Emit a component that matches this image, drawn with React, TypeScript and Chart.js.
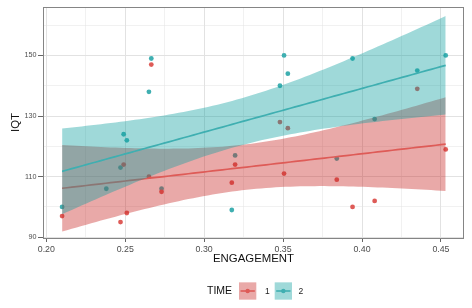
import React, { useEffect, useRef } from 'react';
import { Chart, registerables } from 'chart.js';

Chart.register(...registerables);

// TIME 1 observations
const ENGAGEMENT_T1 = [0.21, 0.247, 0.249, 0.251, 0.265, 0.2665, 0.273, 0.3175, 0.3196, 0.348, 0.3506, 0.353, 0.384, 0.394, 0.408, 0.435, 0.453];
const IQT_T1 = [97, 95, 114, 98, 110, 147, 105, 108, 114, 128, 111, 126, 109, 100, 102, 139, 119];

// TIME 2 observations
const ENGAGEMENT_T2 = [0.21, 0.238, 0.247, 0.249, 0.251, 0.265, 0.2665, 0.273, 0.3175, 0.3196, 0.348, 0.3506, 0.353, 0.384, 0.394, 0.408, 0.435, 0.453];
const IQT_T2 = [100, 106, 113, 124, 122, 138, 149, 106, 99, 117, 140, 150, 144, 116, 149, 129, 145, 150];

const X_TICKS = [0.2, 0.225, 0.25, 0.275, 0.3, 0.325, 0.35, 0.375, 0.4, 0.425, 0.45];
const Y_TICKS = [90, 100, 110, 120, 130, 140, 150, 160];
const X_LIMITS = [0.1979, 0.4646];
const Y_LIMITS = [89.75, 166];
const LEGEND_TITLE = 'TIME';
const LEGEND_LABELS = ['1', '2'];
const T_CRIT: Record<number, number> = { 15: 2.1314, 16: 2.1199 };

const RED = '#DE5B57';
const TEAL = '#3FAFB1';
const RED_BAND = 'rgba(200,40,38,0.4)';
const TEAL_BAND = 'rgba(15,160,160,0.4)';
const FONT = "'Liberation Sans', Arial, sans-serif";

function lmFit(xs: number[], ys: number[]) {
  const n = xs.length;
  const mx = xs.reduce((a, b) => a + b, 0) / n;
  const my = ys.reduce((a, b) => a + b, 0) / n;
  let sxx = 0, sxy = 0;
  for (let i = 0; i < n; i++) {
    sxx += (xs[i] - mx) ** 2;
    sxy += (xs[i] - mx) * (ys[i] - my);
  }
  const b = sxy / sxx;
  const a = my - b * mx;
  let rss = 0;
  for (let i = 0; i < n; i++) rss += (ys[i] - a - b * xs[i]) ** 2;
  const s2 = rss / (n - 2);
  const t = T_CRIT[n - 2] ?? 2.12;
  const lo = Math.min(...xs), hi = Math.max(...xs);
  const line: { x: number; y: number }[] = [];
  const upper: { x: number; y: number }[] = [];
  const lower: { x: number; y: number }[] = [];
  const steps = 80;
  for (let i = 0; i < steps; i++) {
    const x = lo + ((hi - lo) * i) / (steps - 1);
    const f = a + b * x;
    const se = Math.sqrt(s2 * (1 / n + (x - mx) ** 2 / sxx));
    line.push({ x, y: f });
    upper.push({ x, y: f + t * se });
    lower.push({ x, y: f - t * se });
  }
  return { line, upper, lower };
}

export default function App() {
  const ref = useRef<HTMLCanvasElement | null>(null);

  useEffect(() => {
    document.body.style.margin = '0';
    if (!ref.current) return;
    const f1 = lmFit(ENGAGEMENT_T1, IQT_T1);
    const f2 = lmFit(ENGAGEMENT_T2, IQT_T2);
    const pts1 = ENGAGEMENT_T1.map((x, i) => ({ x, y: IQT_T1[i] }));
    const pts2 = ENGAGEMENT_T2.map((x, i) => ({ x, y: IQT_T2[i] }));

    const bandOpts = {
      borderWidth: 0,
      borderColor: 'rgba(0,0,0,0)',
      pointRadius: 0,
      tension: 0,
    };

    const panelLegend = {
      id: 'panelLegend',
      afterDraw(chart: any) {
        const { ctx, chartArea } = chart;
        ctx.save();
        ctx.strokeStyle = '#858585';
        ctx.lineWidth = 1;
        ctx.strokeRect(chartArea.left + 0.5, chartArea.top + 0.5, chartArea.right - chartArea.left - 1, chartArea.bottom - chartArea.top);
        // legend
        const cy = 291;
        ctx.fillStyle = '#111';
        ctx.textBaseline = 'middle';
        ctx.textAlign = 'left';
        ctx.font = `10.5px ${FONT}`;
        ctx.fillText(LEGEND_TITLE, 207, cy + 0.5);
        const keys = [
          { x: 239, band: RED_BAND, col: RED, label: LEGEND_LABELS[0], lx: 265 },
          { x: 274.7, band: TEAL_BAND, col: TEAL, label: LEGEND_LABELS[1], lx: 298.5 },
        ];
        for (const k of keys) {
          const size = 17.3;
          ctx.fillStyle = k.band;
          ctx.fillRect(k.x, cy - size / 2, size, size);
          ctx.strokeStyle = k.col;
          ctx.lineWidth = 1.6;
          ctx.beginPath();
          ctx.moveTo(k.x + 1.5, cy);
          ctx.lineTo(k.x + size - 1.5, cy);
          ctx.stroke();
          ctx.fillStyle = k.col;
          ctx.beginPath();
          ctx.arc(k.x + size / 2, cy, 2.2, 0, Math.PI * 2);
          ctx.fill();
          ctx.fillStyle = '#222';
          ctx.font = `8.5px ${FONT}`;
          ctx.fillText(k.label, k.lx, cy + 0.5);
        }
        ctx.restore();
      },
    };

    const chart = new Chart(ref.current, {
      type: 'line',
      data: {
        datasets: [
          { label: 'fit2', data: f2.line, borderColor: TEAL, borderWidth: 1.7, pointRadius: 0, fill: false, order: 1 } as any,
          { label: 'up2', data: f2.upper, ...bandOpts, fill: '+1', backgroundColor: TEAL_BAND, order: 2 } as any,
          { label: 'lo2', data: f2.lower, ...bandOpts, fill: false, order: 2 } as any,
          { label: 'fit1', data: f1.line, borderColor: RED, borderWidth: 1.7, pointRadius: 0, fill: false, order: 3 } as any,
          { label: 'up1', data: f1.upper, ...bandOpts, fill: '+1', backgroundColor: RED_BAND, order: 4 } as any,
          { label: 'lo1', data: f1.lower, ...bandOpts, fill: false, order: 4 } as any,
          { label: 'p1', data: pts1, showLine: false, pointRadius: 2.4, pointBackgroundColor: RED, pointBorderWidth: 0, pointBorderColor: RED, order: 5 } as any,
          { label: 'p2', data: pts2, showLine: false, pointRadius: 2.4, pointBackgroundColor: TEAL, pointBorderWidth: 0, pointBorderColor: TEAL, order: 5 } as any,
        ],
      },
      options: {
        responsive: false,
        animation: false,
        parsing: true,
        layout: { padding: { left: 0, right: 8, top: 7, bottom: 38 } },
        plugins: { legend: { display: false }, tooltip: { enabled: false } },
        scales: {
          x: {
            type: 'linear',
            min: X_LIMITS[0],
            max: X_LIMITS[1],
            afterBuildTicks: (s: any) => { s.ticks = X_TICKS.map((v) => ({ value: v })); },
            afterFit: (s: any) => { s.height = 32; },
            border: { display: false },
            grid: {
              color: '#e2e2e2',
              lineWidth: (c: any) => (c.index % 2 === 0 ? 1 : 0.5),
              tickLength: 4,
              tickColor: (c: any) => (c.index % 2 === 0 ? '#666' : 'rgba(0,0,0,0)'),
              tickWidth: 1,
            },
            ticks: {
              autoSkip: false,
              maxRotation: 0,
              padding: 2,
              color: '#4d4d4d',
              font: { family: FONT, size: 8.8 },
              callback: (v: any, i: number) => (i % 2 === 0 ? Number(v).toFixed(2) : ''),
            },
            title: {
              display: true,
              text: 'ENGAGEMENT',
              color: '#111',
              font: { family: FONT, size: 11.4 },
              padding: { top: 0, bottom: 4.2 },
            },
          },
          y: {
            type: 'linear',
            min: Y_LIMITS[0],
            max: Y_LIMITS[1],
            afterBuildTicks: (s: any) => { s.ticks = Y_TICKS.map((v) => ({ value: v })); },
            afterFit: (s: any) => { s.width = 43; },
            border: { display: false },
            grid: {
              color: '#e2e2e2',
              lineWidth: (c: any) => (c.index % 2 === 0 ? 1 : 0.5),
              tickLength: 5,
              tickColor: (c: any) => (c.index % 2 === 0 ? '#666' : 'rgba(0,0,0,0)'),
              tickWidth: 1,
            },
            ticks: {
              autoSkip: false,
              padding: 1.5,
              color: '#4d4d4d',
              font: { family: FONT, size: 7.2 },
              callback: (v: any, i: number) => (i % 2 === 0 ? String(v) : ''),
            },
            title: {
              display: true,
              text: 'IQT',
              color: '#111',
              font: { family: FONT, size: 11.4 },
              padding: { top: 9, bottom: 0 },
            },
          },
        },
      },
      plugins: [panelLegend],
    } as any);
    return () => chart.destroy();
  }, []);

  return (
    <div style={{ width: 472, height: 308 }}>
      <canvas ref={ref} width={472} height={308} style={{ display: 'block' }} />
    </div>
  );
}
